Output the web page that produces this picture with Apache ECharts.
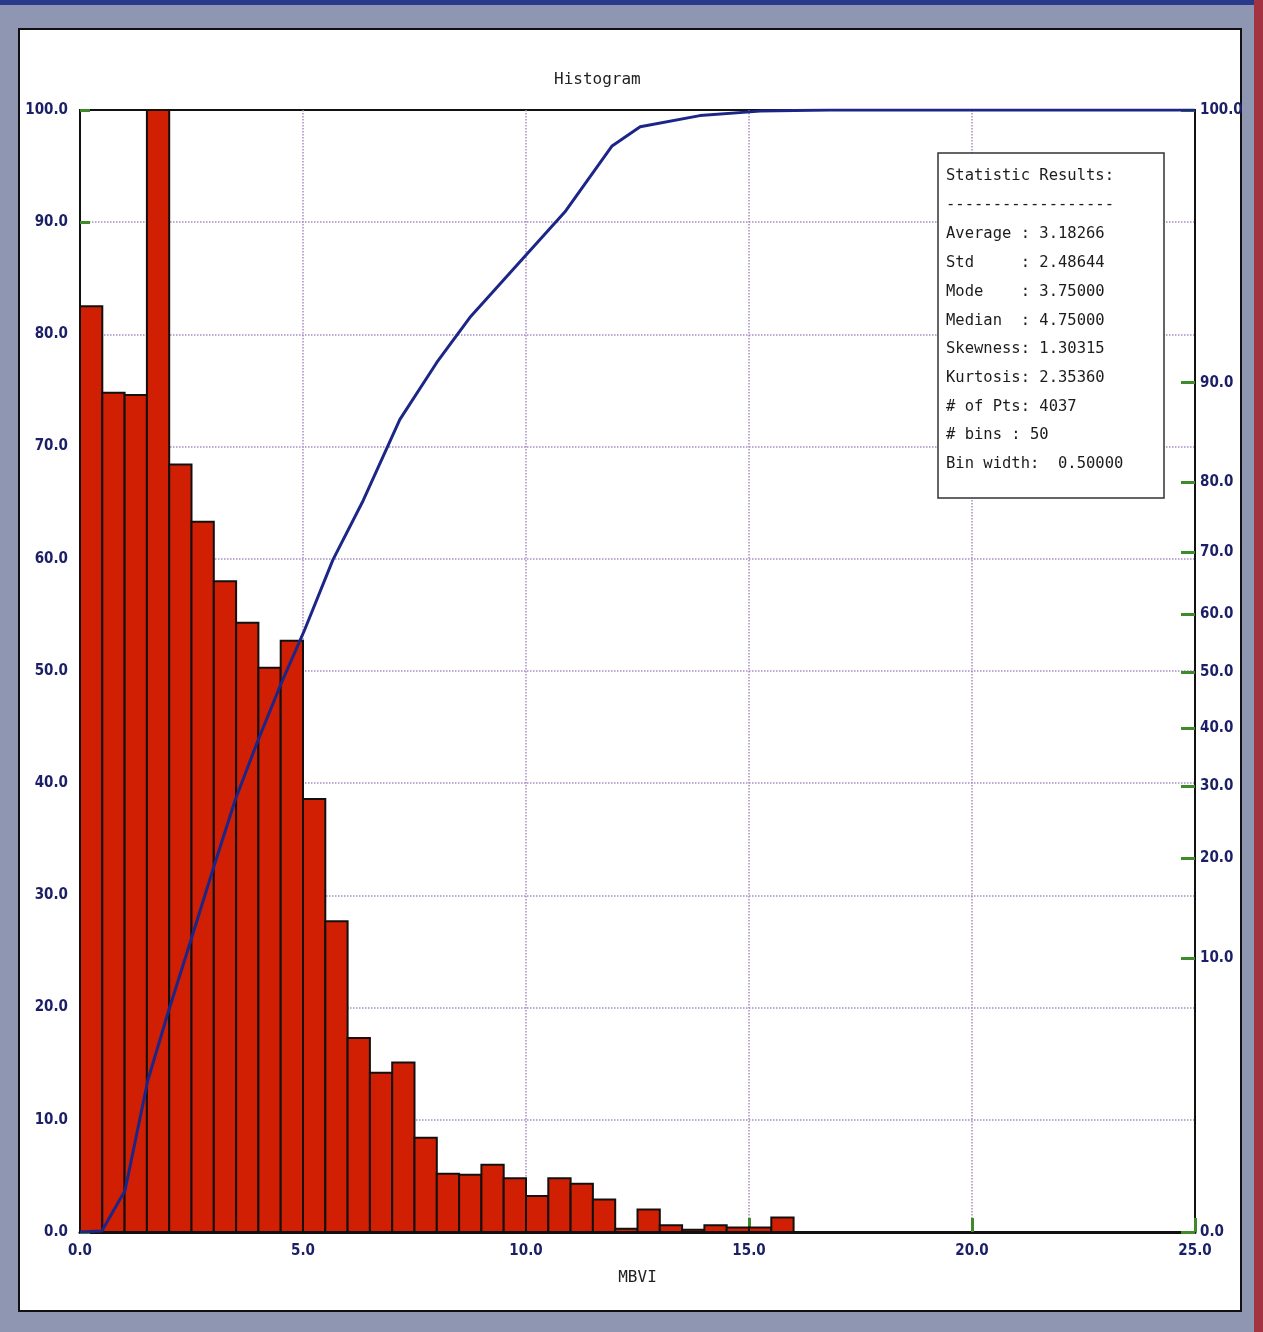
<!DOCTYPE html>
<html>
<head>
<meta charset="utf-8">
<title>Histogram</title>
<script src="https://cdn.jsdelivr.net/npm/echarts@6/dist/echarts.min.js"></script>
<style>
  html, body { margin: 0; padding: 0; width: 1263px; height: 1332px; overflow: hidden; }
  body { background: #8f96b2; position: relative; }
  #topband { position: absolute; left: 0; top: 0; width: 1263px; height: 5px; background: #2a3a8a; }
  #redband { position: absolute; left: 1254px; top: 0; width: 9px; height: 1332px; background: #a23340; }
  #panel { position: absolute; left: 18px; top: 28px; width: 1220px; height: 1280px; background: #fff; border: 2px solid #111; }
  #chart { position: absolute; left: 0; top: 0; width: 1263px; height: 1332px; }
</style>
</head>
<body>
<div id="topband"></div>
<div id="redband"></div>
<div id="panel"></div>
<div id="chart"></div>
<script>
// Histogram of MBVI, 0.5 wide bins (relative frequency, tallest bin = 100)
const binWidth = 0.5;
const binStarts = [
  0.0, 0.5, 1.0, 1.5, 2.0, 2.5, 3.0, 3.5, 4.0, 4.5,
  5.0, 5.5, 6.0, 6.5, 7.0, 7.5, 8.0, 8.5, 9.0, 9.5,
  10.0, 10.5, 11.0, 11.5, 12.0, 12.5, 13.0, 13.5, 14.0, 14.5,
  15.0, 15.5
];
const binHeights = [
  82.5, 74.8, 74.6, 100.0, 68.4, 63.3, 58.0, 54.3, 50.3, 52.7,
  38.6, 27.7, 17.3, 14.2, 15.1, 8.4, 5.2, 5.1, 6.0, 4.8,
  3.2, 4.8, 4.3, 2.9, 0.3, 2.0, 0.6, 0.2, 0.6, 0.4,
  0.4, 1.3
];

// Cumulative curve (plotted on the probability-scaled right axis)
const cumX = [0.0, 0.49, 1.01, 1.52, 1.97, 2.47, 2.98, 3.48, 3.97, 4.48, 5.04, 5.67, 6.35, 7.17, 8.0, 8.74, 9.87, 10.87, 11.93, 12.56, 13.9, 15.25, 16.8, 25.0];
const cumY = [0.0, 0.1, 3.7, 13.5, 19.5, 25.8, 32.3, 38.5, 43.6, 48.6, 53.7, 59.9, 65.2, 72.4, 77.5, 81.5, 86.5, 90.9, 96.8, 98.5, 99.5, 99.9, 100.0, 100.0];

// Right axis: cumulative percent labels and where they sit on the plot height
const rightLabels = ['0.0', '10.0', '20.0', '30.0', '40.0', '50.0', '60.0', '70.0', '80.0', '90.0', '100.0'];
const rightPos = [0, 24.4, 33.3, 39.7, 44.9, 49.9, 55.1, 60.6, 66.8, 75.7, 100];

// Summary statistics box
const statLines = [
  'Statistic Results:',
  '------------------',
  'Average : 3.18266',
  'Std     : 2.48644',
  'Mode    : 3.75000',
  'Median  : 4.75000',
  'Skewness: 1.30315',
  'Kurtosis: 2.35360',
  '# of Pts: 4037',
  '# bins : 50',
  'Bin width:  0.50000'
];

const navy = '#1b1f66';
const tickGreen = '#3f8a2a';
const gridPurple = '#a88cc2';
const labelFont = '"DejaVu Sans Condensed", "DejaVu Sans", sans-serif';
const monoFont = '"DejaVu Sans Mono", "Liberation Mono", monospace';

const barData = binStarts.map((s, i) => [s, s + binWidth, binHeights[i]]);
const cumData = cumX.map((x, i) => [x, cumY[i]]);

const statY = [175, 204, 233, 262, 291, 320, 348, 377, 406, 434, 463];
const statText = statLines.map((t, i) => ({
  type: 'text',
  left: 946,
  top: statY[i] - 7,
  style: { text: t, font: '15.5px ' + monoFont, fill: '#1c1c1c' },
  z: 20
}));

const chart = echarts.init(document.getElementById('chart'), null, { renderer: 'canvas' });

chart.setOption({
  backgroundColor: 'transparent',
  animation: false,
  title: {
    text: 'Histogram',
    left: 549,
    top: 67,
    textStyle: { fontFamily: monoFont, fontSize: 16, fontWeight: 'normal', color: '#222' }
  },
  grid: {
    left: 80, top: 110, right: 68, bottom: 100,
    show: true, borderColor: '#111', borderWidth: 2, backgroundColor: 'transparent'
  },
  xAxis: {
    type: 'value',
    min: 0, max: 25, interval: 5,
    name: 'MBVI',
    nameLocation: 'middle',
    nameGap: 38,
    nameTextStyle: { fontFamily: monoFont, fontSize: 16, color: '#222' },
    axisLine: { show: true, onZero: false, lineStyle: { color: '#111', width: 3 } },
    axisTick: { show: true, inside: true, length: 14, lineStyle: { color: tickGreen, width: 3 } },
    axisLabel: {
      margin: 12,
      formatter: v => v.toFixed(1),
      fontFamily: labelFont, fontWeight: 'bold', fontSize: 15, color: navy
    },
    splitLine: {
      show: true, showMinLine: false, showMaxLine: false,
      lineStyle: { color: gridPurple, type: 'dotted', width: 1.5 }
    }
  },
  yAxis: [
    {
      type: 'value',
      min: 0, max: 100, interval: 10,
      position: 'left',
      axisLine: { show: true, lineStyle: { color: '#111', width: 2 } },
      axisTick: { show: true, inside: true, length: 10, lineStyle: { color: tickGreen, width: 3 } },
      axisLabel: {
        margin: 12,
        formatter: v => v.toFixed(1),
        fontFamily: labelFont, fontWeight: 'bold', fontSize: 15, color: navy
      },
      splitLine: {
        show: true, showMinLine: false, showMaxLine: false,
        lineStyle: { color: gridPurple, type: 'dotted', width: 1.5 }
      }
    },
    {
      type: 'value',
      min: 0, max: 100,
      position: 'right',
      axisLine: { show: true, lineStyle: { color: '#111', width: 2 } },
      axisTick: {
        show: true, inside: true, length: 14,
        customValues: rightPos,
        lineStyle: { color: tickGreen, width: 3 }
      },
      axisLabel: {
        margin: 5,
        customValues: rightPos,
        formatter: v => {
          let best = 0;
          rightPos.forEach((p, i) => { if (Math.abs(p - v) < Math.abs(rightPos[best] - v)) best = i; });
          return rightLabels[best];
        },
        fontFamily: labelFont, fontWeight: 'bold', fontSize: 15, color: navy
      },
      splitLine: { show: false }
    }
  ],
  series: [
    {
      name: 'Frequency',
      type: 'custom',
      data: barData,
      encode: { x: [0, 1], y: 2 },
      renderItem: (params, api) => {
        const p0 = api.coord([api.value(0), api.value(2)]);
        const p1 = api.coord([api.value(1), 0]);
        return {
          type: 'rect',
          shape: { x: p0[0], y: p0[1], width: p1[0] - p0[0], height: p1[1] - p0[1] },
          style: { fill: '#d01f02', stroke: '#141010', lineWidth: 2 }
        };
      },
      z: 2
    },
    {
      name: 'Cumulative',
      type: 'line',
      data: cumData,
      yAxisIndex: 0,
      showSymbol: false,
      smooth: false,
      lineStyle: { color: '#1c2688', width: 3 },
      z: 5
    }
  ],
  graphic: [
    {
      type: 'rect',
      shape: { x: 938, y: 153, width: 226, height: 345 },
      style: { fill: '#fff', stroke: '#333', lineWidth: 1.5 },
      z: 19
    }
  ].concat(statText)
});
</script>
</body>
</html>
